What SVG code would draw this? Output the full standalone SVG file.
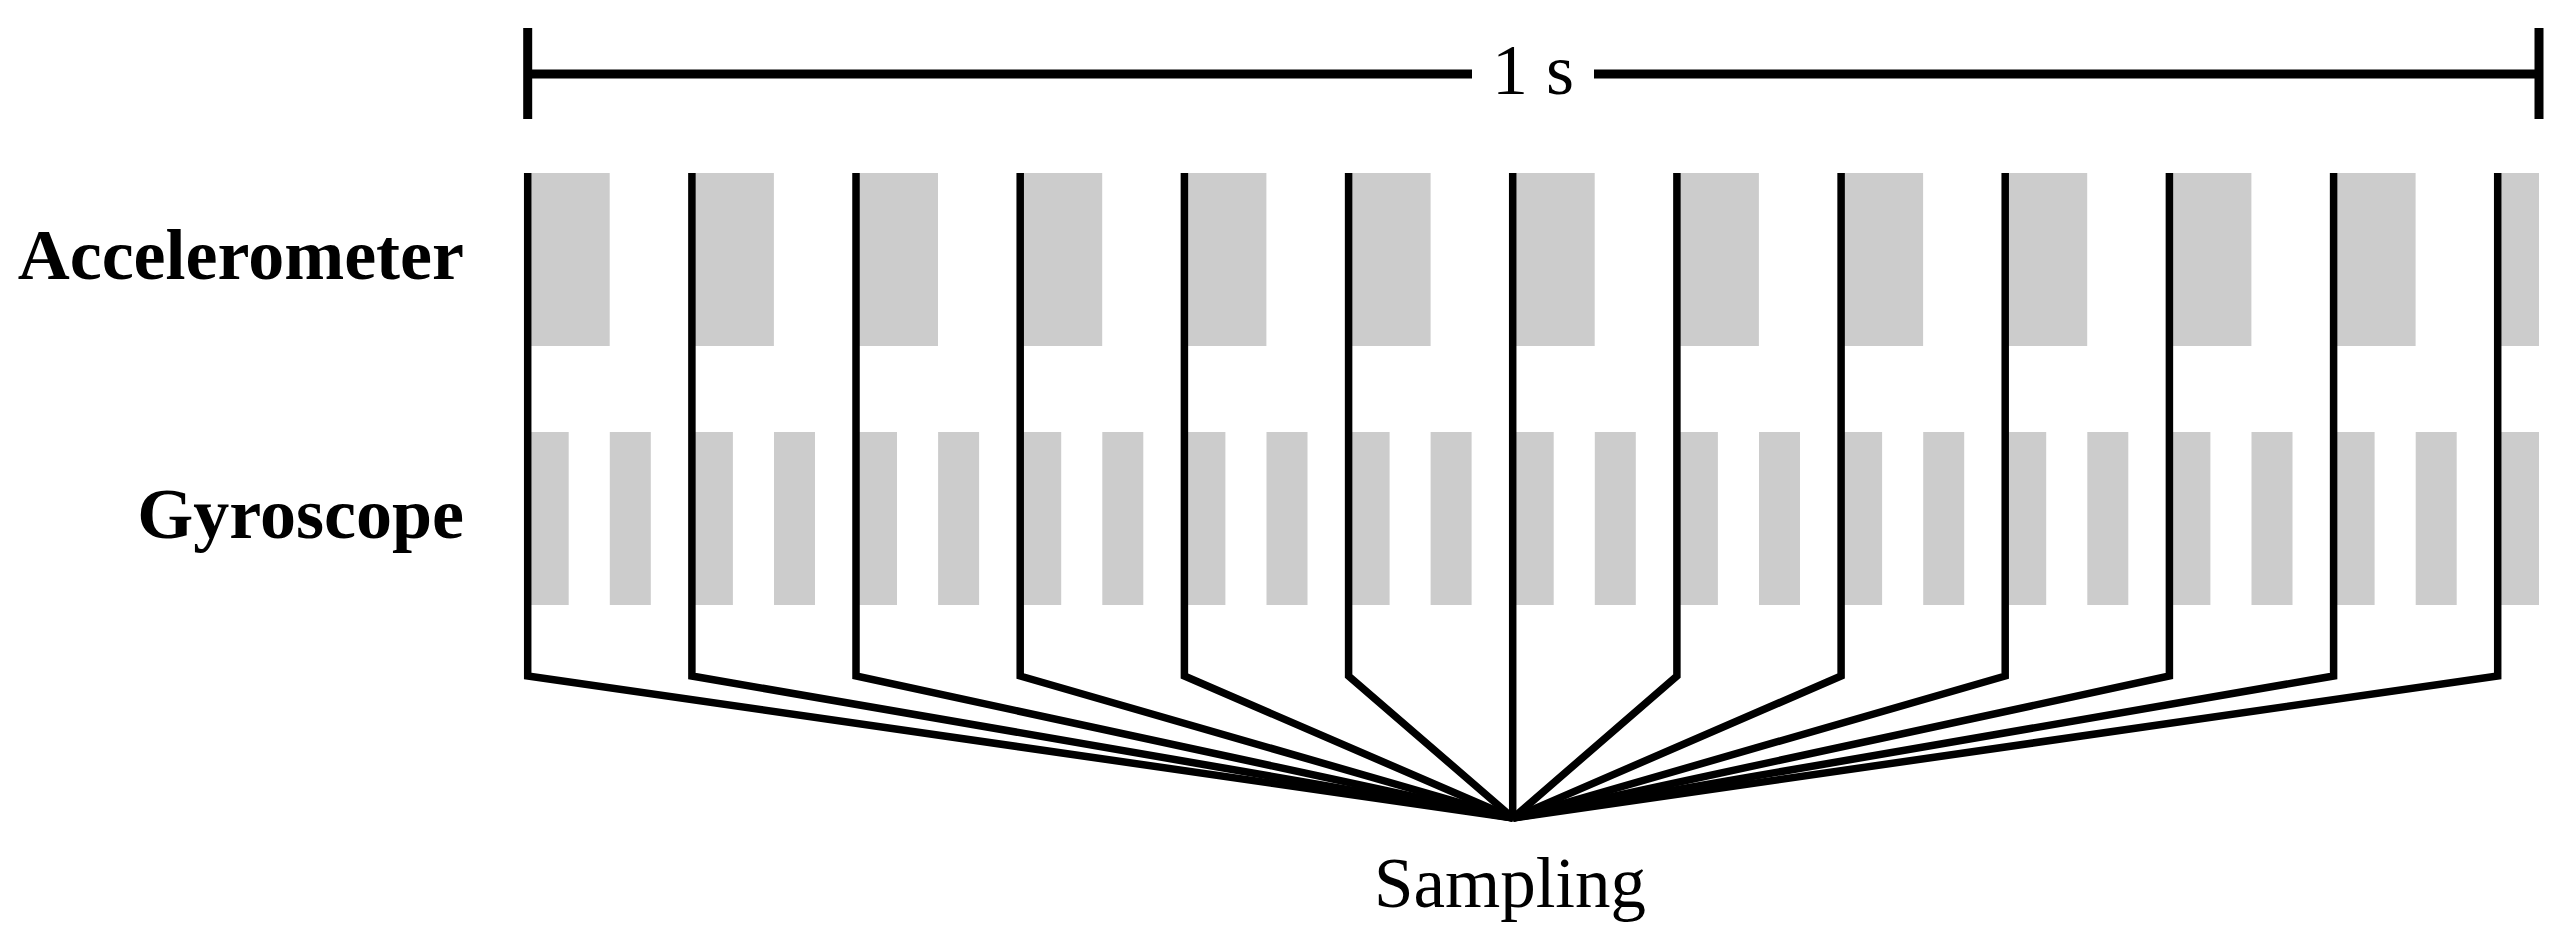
<svg xmlns="http://www.w3.org/2000/svg" width="2561" height="941" viewBox="0 0 2561 941">
<style>
.bg{fill:#ffffff}
.acc{fill:#cccccc}
.gyr{fill:#cccccc}
.ln{fill:none;stroke:#000;stroke-width:7.5;stroke-linejoin:miter;stroke-miterlimit:10}
.scale{fill:none;stroke:#000;stroke-width:9}
.lab{font-family:"Liberation Serif","Times New Roman",serif;font-weight:bold;font-size:72px;fill:#000}
.txt{font-family:"Liberation Serif","Times New Roman",serif;font-size:72px;fill:#000}
</style>
<rect class="bg" x="0" y="0" width="2561" height="941"/>
<g id="label-accelerometer"><text class="lab" x="464" y="279" text-anchor="end">Accelerometer</text></g>
<g id="label-gyroscope"><text class="lab" x="464" y="538" text-anchor="end">Gyroscope</text></g>
<g id="accelerometer-bars">
<rect class="acc" x="527.7" y="173" width="82" height="173"/>
<rect class="acc" x="691.9" y="173" width="82" height="173"/>
<rect class="acc" x="856.0" y="173" width="82" height="173"/>
<rect class="acc" x="1020.2" y="173" width="82" height="173"/>
<rect class="acc" x="1184.4" y="173" width="82" height="173"/>
<rect class="acc" x="1348.6" y="173" width="82" height="173"/>
<rect class="acc" x="1512.7" y="173" width="82" height="173"/>
<rect class="acc" x="1676.9" y="173" width="82" height="173"/>
<rect class="acc" x="1841.1" y="173" width="82" height="173"/>
<rect class="acc" x="2005.2" y="173" width="82" height="173"/>
<rect class="acc" x="2169.4" y="173" width="82" height="173"/>
<rect class="acc" x="2333.6" y="173" width="82" height="173"/>
<rect class="acc" x="2497.7" y="173" width="41.3" height="173"/>
</g>
<g id="gyroscope-bars">
<rect class="gyr" x="527.7" y="432" width="41" height="173"/>
<rect class="gyr" x="609.8" y="432" width="41" height="173"/>
<rect class="gyr" x="691.9" y="432" width="41" height="173"/>
<rect class="gyr" x="774.0" y="432" width="41" height="173"/>
<rect class="gyr" x="856.0" y="432" width="41" height="173"/>
<rect class="gyr" x="938.1" y="432" width="41" height="173"/>
<rect class="gyr" x="1020.2" y="432" width="41" height="173"/>
<rect class="gyr" x="1102.3" y="432" width="41" height="173"/>
<rect class="gyr" x="1184.4" y="432" width="41" height="173"/>
<rect class="gyr" x="1266.5" y="432" width="41" height="173"/>
<rect class="gyr" x="1348.6" y="432" width="41" height="173"/>
<rect class="gyr" x="1430.6" y="432" width="41" height="173"/>
<rect class="gyr" x="1512.7" y="432" width="41" height="173"/>
<rect class="gyr" x="1594.8" y="432" width="41" height="173"/>
<rect class="gyr" x="1676.9" y="432" width="41" height="173"/>
<rect class="gyr" x="1759.0" y="432" width="41" height="173"/>
<rect class="gyr" x="1841.1" y="432" width="41" height="173"/>
<rect class="gyr" x="1923.2" y="432" width="41" height="173"/>
<rect class="gyr" x="2005.2" y="432" width="41" height="173"/>
<rect class="gyr" x="2087.3" y="432" width="41" height="173"/>
<rect class="gyr" x="2169.4" y="432" width="41" height="173"/>
<rect class="gyr" x="2251.5" y="432" width="41" height="173"/>
<rect class="gyr" x="2333.6" y="432" width="41" height="173"/>
<rect class="gyr" x="2415.7" y="432" width="41" height="173"/>
<rect class="gyr" x="2497.7" y="432" width="41.3" height="173"/>
</g>
<g id="time-scale">
<path class="scale" d="M527.7,28 V119 M2539,28 V119 M527.7,74 H1472 M1594,74 H2539"/>
<text class="txt" x="1533" y="94" text-anchor="middle">1 s</text>
</g>
<g id="connectors">
<path class="ln" d="M527.7,173 V676 L1513,818"/>
<path class="ln" d="M691.9,173 V676 L1513,818"/>
<path class="ln" d="M856.0,173 V676 L1513,818"/>
<path class="ln" d="M1020.2,173 V676 L1513,818"/>
<path class="ln" d="M1184.4,173 V676 L1513,818"/>
<path class="ln" d="M1348.6,173 V676 L1513,818"/>
<path class="ln" d="M1512.7,173 V818"/>
<path class="ln" d="M1676.9,173 V676 L1513,818"/>
<path class="ln" d="M1841.1,173 V676 L1513,818"/>
<path class="ln" d="M2005.2,173 V676 L1513,818"/>
<path class="ln" d="M2169.4,173 V676 L1513,818"/>
<path class="ln" d="M2333.6,173 V676 L1513,818"/>
<path class="ln" d="M2497.7,173 V676 L1513,818"/>
</g>
<g id="label-sampling"><text class="txt" x="1510" y="907" text-anchor="middle" style="font-size:71px">Sampling</text></g>
</svg>
